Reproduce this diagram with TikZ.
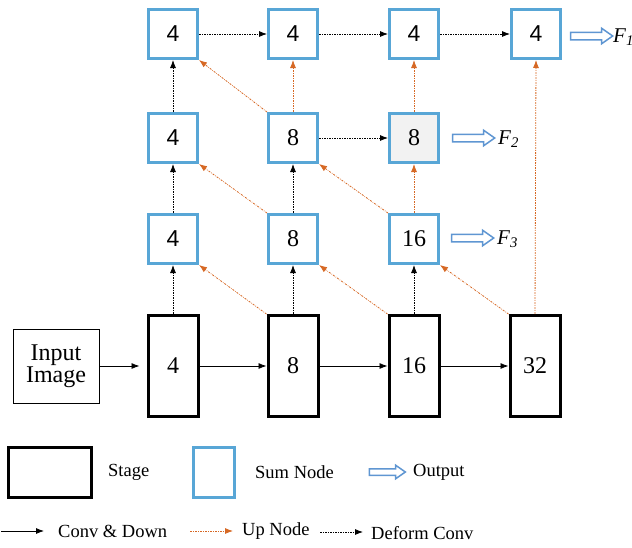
\documentclass[tikz,border=0pt]{standalone}
\usepackage{fontspec}
\setmainfont{Liberation Serif}
\newfontfamily\arialfont{Liberation Sans}
\usetikzlibrary{arrows.meta,shapes.arrows}
\definecolor{sumblue}{RGB}{88,166,214}
\definecolor{outblue}{RGB}{95,150,210}
\definecolor{uporange}{RGB}{214,104,36}
\definecolor{grayfill}{RGB}{242,242,242}
\tikzset{
  sumbox/.style={draw=sumblue, line width=3pt, minimum width=49pt, minimum height=49pt, inner sep=0pt, font=\fontsize{24}{26}\selectfont},
  sansnum/.style={font=\arialfont\fontsize{23}{26}\selectfont},
  stagebox/.style={draw=black, line width=3pt, minimum width=50pt, minimum height=101pt, inner sep=0pt, font=\fontsize{24}{26}\selectfont},
  inbox/.style={draw=black, line width=0.9pt, minimum width=86pt, minimum height=74pt, align=center, inner sep=0pt, font=\fontsize{24}{26}\selectfont},
  convarrow/.style={line width=0.8pt, -{Latex[length=8pt,width=6pt]}},
  deformarrow/.style={line width=0.8pt, dash pattern=on 2pt off 1.2pt on 0.6pt off 1.2pt, -{Latex[length=8pt,width=6pt]}},
  uparrow/.style={uporange, line width=0.8pt, dash pattern=on 2pt off 1.2pt on 0.6pt off 1.2pt, -{Latex[length=8pt,width=6pt]}},
  outarrow/.style={single arrow, draw=outblue, line width=1.5pt, fill=white, minimum height=42pt, minimum width=15pt, inner sep=3pt, single arrow head extend=4pt, single arrow tip angle=70},
  flabel/.style={anchor=west, inner sep=0pt, font=\fontsize{21}{24}\selectfont\itshape},
  legtext/.style={anchor=west, inner sep=0pt, font=\fontsize{18.5}{22}\selectfont}
}
\begin{document}
\begin{tikzpicture}[x=1pt,y=-1pt]
\useasboundingbox (0,0) rectangle (632,547);
% stages
\node[inbox] (in) at (56,366) {Input\\[-4pt]Image};
\node[stagebox] (s1) at (173,366) {4};
\node[stagebox] (s2) at (293,366) {8};
\node[stagebox] (s3) at (414,366) {16};
\node[stagebox] (s4) at (535,366) {32};
% sum nodes
\node[sumbox,sansnum] (a1) at (173,34) {4};
\node[sumbox,sansnum] (a2) at (293,34) {4};
\node[sumbox,sansnum] (a3) at (414,34) {4};
\node[sumbox,sansnum] (a4) at (536,34) {4};
\node[sumbox,sansnum] (b1) at (173,138) {4};
\node[sumbox] (b2) at (293,138) {8};
\node[sumbox,fill=grayfill] (b3) at (414,138) {8};
\node[sumbox,sansnum] (c1) at (173,239) {4};
\node[sumbox] (c2) at (293,239) {8};
\node[sumbox] (c3) at (414,239) {16};
% conv & down
\draw[convarrow, shorten >=7pt] (in) -- (s1);
\draw[convarrow] (s1) -- (s2);
\draw[convarrow] (s2) -- (s3);
\draw[convarrow] (s3) -- (s4);
% deform conv
\draw[deformarrow] (s1.north) -- (c1.south);
\draw[deformarrow] (c1.north) -- (b1.south);
\draw[deformarrow] (b1.north) -- (a1.south);
\draw[deformarrow] (s2.north) -- (c2.south);
\draw[deformarrow] (c2.north) -- (b2.south);
\draw[deformarrow] (s3.north) -- (c3.south);
\draw[deformarrow] (a1) -- (a2);
\draw[deformarrow] (a2) -- (a3);
\draw[deformarrow] (a3) -- (a4);
\draw[deformarrow] (b2) -- (b3);
% up nodes
\draw[uparrow] (s2.north west) -- (c1.south east);
\draw[uparrow] (s3.north west) -- (c2.south east);
\draw[uparrow] (s4.north west) -- (c3.south east);
\draw[uparrow] (c2.north west) -- (b1.south east);
\draw[uparrow] (c3.north west) -- (b2.south east);
\draw[uparrow] (b2.north west) -- (a1.south east);
\draw[uparrow] (b2.north) -- (a2.south);
\draw[uparrow] (c3.north) -- (b3.south);
\draw[uparrow] (b3.north) -- (a3.south);
\draw[uparrow] (s4.north) -- (a4.south);
% outputs
\node[outarrow] (o1) at (589,36) {};
\node[flabel] (f1) at (613,37) {F\textsubscript{1}};
\node[outarrow] (o2) at (471,138) {};
\node[flabel] (f2) at (498,139) {F\textsubscript{2}};
\node[outarrow] (o3) at (470,238) {};
\node[flabel] (f3) at (497,239) {F\textsubscript{3}};
% legend
\node[draw=black, line width=3pt, minimum width=83pt, minimum height=50pt, inner sep=0pt] (lstage) at (50,472) {};
\node[legtext] (tstage) at (108,472) {Stage};
\node[draw=sumblue, line width=3pt, minimum width=41pt, minimum height=50pt, inner sep=0pt] (lsum) at (214,472) {};
\node[legtext] (tsum) at (255,472) {Sum Node};
\node[outarrow, minimum height=36pt, minimum width=13pt, inner sep=2.5pt, single arrow head extend=3.5pt] (lout) at (385,472) {};
\node[legtext] (tout) at (413,472) {Output};
\coordinate (l1a) at (1,531);
\coordinate (l1b) at (44,531);
\draw[convarrow] (l1a) -- (l1b);
\node[legtext] (tconv) at (58,531) {Conv \& Down};
\coordinate (l2a) at (190,531);
\coordinate (l2b) at (233,531);
\draw[uparrow] (l2a) -- (l2b);
\node[legtext] (tup) at (242,531) {Up Node};
\coordinate (l3a) at (320,532);
\coordinate (l3b) at (363,532);
\draw[deformarrow] (l3a) -- (l3b);
\node[legtext] (tdef) at (371,533) {Deform Conv};
\end{tikzpicture}
\end{document}
